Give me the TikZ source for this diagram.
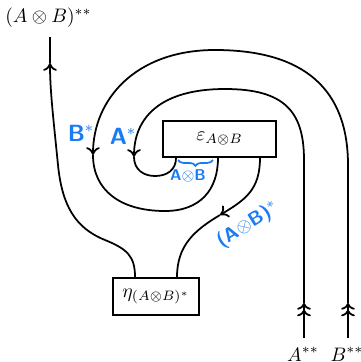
\documentclass[tikz,border=0pt]{standalone}
\usepackage{tikz}
\usepackage{xcolor}
\usetikzlibrary{arrows.meta, decorations.pathreplacing}
\definecolor{clrInk}{HTML}{1A7CF2}

\begin{document}
\begin{tikzpicture}[
    x=0.018cm, y=-0.018cm,
    morph/.style={rectangle, draw=black, line width=0.9pt, inner sep=0pt, align=center},
    wire/.style={line width=0.9pt},
    flow/.style={wire, -{Computer Modern Rightarrow[length=4pt, width=7pt]}},
    flowtwo/.style={wire, -{Computer Modern Rightarrow[length=3.4pt, width=7pt] Computer Modern Rightarrow[length=3.4pt, width=7pt]}},
    obj/.style={inner sep=0pt, anchor=base},
    note/.style={text=clrInk, font=\sffamily\bfseries},
]
\useasboundingbox (0,0) rectangle (360,362);

% Boxes
\node[morph, minimum width=2.03cm, minimum height=0.65cm] (eps) at (219.5,139) {$\varepsilon_{A\otimes B}$};
\node[morph, minimum width=1.55cm, minimum height=0.67cm] (eta) at (156,296.5) {$\eta_{(A\otimes B)^*}$};

% Objects at the ends
\node[obj] (outAB) at (48.5,22.5) {$(A\otimes B)^{**}$};
\node[obj] (inA) at (303,361) {$A^{**}$};
\node[obj] (inB) at (347,361) {$B^{**}$};

% Legs and tips
\coordinate (epsL) at ([xshift=-0.783cm]eps.south);
\coordinate (epsM) at ([xshift=-0.027cm]eps.south);
\coordinate (epsR) at ([xshift=0.729cm]eps.south);
\coordinate (etaL) at ([xshift=-0.378cm]eta.north);
\coordinate (etaR) at ([xshift=0.378cm]eta.north);
\coordinate (topEnd) at (50,37);
\coordinate (tipL) at (50,63);
\coordinate (tipR) at (220,215);
\coordinate (Abot) at (304,338);
\coordinate (Atip) at (304,303);
\coordinate (Bbot) at (348,338);
\coordinate (Btip) at (348,303);
\coordinate (inTip) at (134,157);
\coordinate (outTip) at (93,155);

% (A x B)** wire
\draw[flow] (etaL) .. controls (135,256) and (127,249) .. (105,240)
    .. controls (75,228) and (62,205) .. (58,165)
    .. controls (53,115) and (50,90) .. (tipL);
\draw[wire] (tipL) -- (topEnd);

% (A x B)* wire
\draw[flow] (epsR) .. controls (260,190) and (245,200) .. (tipR);
\draw[wire] (tipR) .. controls (195,230) and (177,245) .. (etaR);

% A wire
\draw[flowtwo] (Abot) -- (Atip);
\draw[flow] (Atip) -- (304,160) .. controls (304,112) and (285,89) .. (225,89)
    .. controls (160,89) and (134,118) .. (inTip);
\draw[wire] (inTip) .. controls (134,170) and (144,176) .. (155,176)
    .. controls (167,176) and (176,170) .. (epsL);

% B wire
\draw[flowtwo] (Bbot) -- (Btip);
\draw[flow] (Btip) -- (348,165) .. controls (348,90) and (305,50) .. (215,50)
    .. controls (135,50) and (93,100) .. (outTip);
\draw[wire] (outTip) .. controls (93,190) and (120,211) .. (165,211)
    .. controls (200,211) and (218,190) .. (epsM);

% Handwritten notes
\node[note, font=\sffamily\bfseries\large] (noteB) at (81,133) {B$^*$};
\node[note, font=\sffamily\bfseries\large] (noteA) at (123,136) {A$^*$};
\draw[clrInk, line width=0.9pt, decorate, decoration={brace, mirror, amplitude=3pt}] (178,160) -- (213,160);
\node[note, font=\sffamily\bfseries\footnotesize] (noteAB) at (188,176) {A$\otimes$B};
\node[note, rotate=32] (noteABs) at (248,225) {(A$\otimes$B)$^*$};

\end{tikzpicture}
\end{document}
